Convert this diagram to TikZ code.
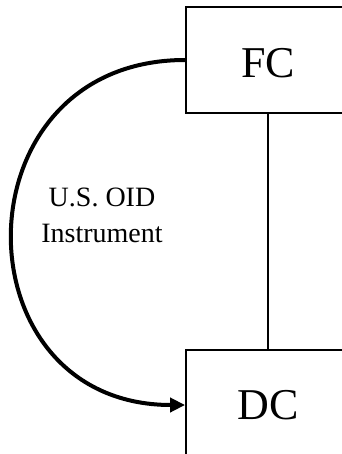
\documentclass[tikz,border=0pt]{standalone}
\usepackage{fontspec}
\setmainfont{Liberation Serif}
\usetikzlibrary{arrows.meta}
\begin{document}
\begin{tikzpicture}[x=1pt,y=-1pt,
  unitbox/.style={draw, line width=1.8pt, minimum width=164pt, inner sep=0pt,
    font=\fontsize{44}{50}\selectfont},
  link/.style={line width=1.8pt},
  flow/.style={line width=4pt, -{Triangle[length=15pt,width=14pt]}},
  caption/.style={align=center, font=\fontsize{28}{36}\selectfont, inner sep=0pt}]
  \useasboundingbox (0,0) rectangle (341,454);
  % the two units, partly running off the right edge
  \node[unitbox, minimum height=106pt, text height=36pt] (fc) at (268,60) {FC};
  \node[unitbox, minimum height=110pt] (dc) at (268,405) {DC};
  % direct line between the units
  \draw[link] (fc.south) -- (dc.north);
  % curved transfer arrow with its label
  \draw[flow] (fc.west) .. controls +(-230,0) and +(-230,0) .. (dc.west);
  \node[caption] (instr) at (102,215.5) {U.S. OID\\Instrument};
\end{tikzpicture}
\end{document}
